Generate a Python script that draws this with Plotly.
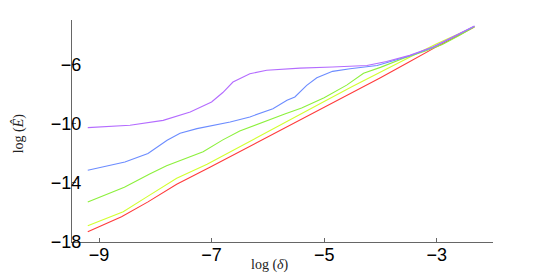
import plotly.graph_objects as go

# data (log delta, log E-hat)
x_purple = [-9.2, -8.45, -7.86, -7.38, -7.0, -6.8, -6.62, -6.32, -6.02, -5.43, -4.85, -4.24, -3.89, -3.48, -3.07, -2.72, -2.33]
y_purple = [-10.27, -10.11, -9.78, -9.21, -8.54, -7.9, -7.19, -6.63, -6.40, -6.25, -6.18, -6.07, -5.80, -5.39, -4.83, -4.16, -3.40]

x_blue = [-9.2, -8.54, -8.13, -7.79, -7.56, -7.26, -6.67, -6.32, -5.91, -5.66, -5.52, -5.31, -5.13, -4.85, -4.54, -4.06, -3.5, -3.07, -2.72, -2.33]
y_blue = [-13.15, -12.59, -12.02, -11.12, -10.65, -10.34, -9.89, -9.55, -8.99, -8.43, -8.20, -7.42, -6.90, -6.47, -6.29, -6.07, -5.45, -4.85, -4.18, -3.42]

x_green = [-9.2, -8.55, -8.1, -7.8, -7.15, -6.8, -6.5, -6.1, -5.7, -5.4, -5.0, -4.6, -4.3, -4.0, -3.6, -3.2, -2.9, -2.6, -2.33]
y_green = [-15.3, -14.3, -13.4, -12.85, -11.9, -11.1, -10.5, -9.9, -9.35, -8.95, -8.25, -7.4, -6.6, -6.2, -5.6, -5.1, -4.65, -4.05, -3.45]

x_yellow = [-9.2, -8.57, -8.15, -7.62, -7.08, -6.5, -6.0, -5.5, -5.0, -4.5, -4.0, -3.5, -3.0, -2.33]
y_yellow = [-16.9, -15.95, -14.95, -13.7, -12.75, -11.55, -10.55, -9.5, -8.5, -7.5, -6.5, -5.55, -4.6, -3.45]

x_red = [-9.2, -8.6, -8.13, -7.62, -7.03, -6.5, -6.0, -5.5, -5.0, -4.5, -4.0, -3.5, -3.0, -2.33]
y_red = [-17.3, -16.3, -15.29, -14.1, -12.95, -11.9, -10.9, -9.9, -8.9, -7.9, -6.9, -5.85, -4.8, -3.48]

x_ticks = [-9, -7, -5, -3]
y_ticks = [-6, -10, -14, -18]

series = [
    (x_red, y_red, "#ff3b3b"),
    (x_yellow, y_yellow, "#d2ff2e"),
    (x_green, y_green, "#8cf03c"),
    (x_blue, y_blue, "#6c8cff"),
    (x_purple, y_purple, "#b46cff"),
]

fig = go.Figure()
for xs, ys, c in series:
    fig.add_trace(go.Scatter(x=xs, y=ys, mode="lines", line=dict(color=c, width=1.1),
                             showlegend=False, hoverinfo="skip"))

axis_common = dict(showgrid=False, zeroline=False, showline=True, linecolor="#666666",
                   linewidth=1, ticks="inside", ticklen=4, tickcolor="#666666", automargin=False,
                   tickfont=dict(family="Liberation Sans, Arial, sans-serif", size=18, color="#000000"))

fig.update_xaxes(range=[-9.48, -2.0], tickvals=x_ticks, ticklabelstandoff=-4, **axis_common)
fig.update_yaxes(range=[-18, -3.0], tickvals=y_ticks, ticklabelstandoff=-14, **axis_common)

fig.add_annotation(text="log (<i>δ</i>)", xref="x", yref="paper", x=-5.96, y=-0.104,
                   showarrow=False, yanchor="middle",
                   font=dict(family="Liberation Serif, Times New Roman, serif", size=14, color="#222"))
fig.add_annotation(text="log (<i>Ê</i>)", xref="paper", yref="paper", x=-0.128, y=0.49,
                   showarrow=False, textangle=-90, xanchor="center",
                   font=dict(family="Liberation Serif, Times New Roman, serif", size=14, color="#222"))

# the page body adds an 8 px margin, so the figure is 8 px smaller and margins shifted
fig.update_layout(width=537, height=265, margin=dict(l=64, r=52, t=12, b=31),
                  plot_bgcolor="white", paper_bgcolor="white")

fig.write_html("out.html")
